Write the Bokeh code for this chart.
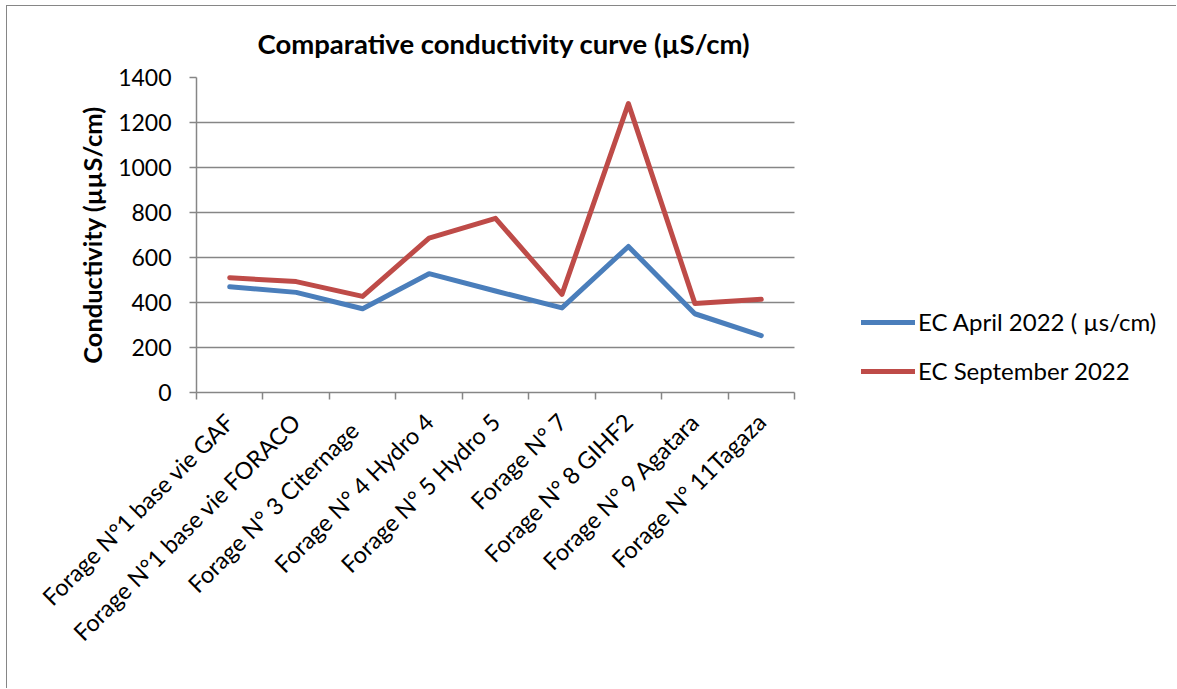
import math

from bokeh.embed import file_html
from bokeh.models import (ColumnDataSource, FixedTicker, Legend, LegendItem, Range1d)
from bokeh.plotting import figure
from bokeh.resources import INLINE

# Boreholes sampled in both campaigns
wells = [
    "Forage N°1 base vie GAF",
    "Forage N°1 base vie FORACO",
    "Forage  N° 3  Citernage",
    "Forage N° 4 Hydro 4",
    "Forage N° 5 Hydro 5",
    "Forage N° 7",
    "Forage N° 8 GIHF2",
    "Forage N° 9 Agatara",
    "Forage N° 11Tagaza",
]

# Electrical conductivity (µS/cm)
ec_april = [470, 445, 372, 528, 451, 376, 649, 350, 253]
ec_september = [510, 493, 427, 686, 774, 436, 1284, 396, 414]

y_ticks = [0, 200, 400, 600, 800, 1000, 1200, 1400]

FONT = "Lato"
GREY = "#868686"
BLUE = "#4A7EBB"
RED = "#BE4B48"

# Canvas layout (px): the frame runs to the right edge so the legend can sit beside the
# plotted area; gridlines and the x axis are bounded to the wells' slots.
CANVAS_W, CANVAS_H = 1170, 683
FRAME_LEFT, FRAME_TOP, FRAME_BOTTOM = 189, 71, 297
PLOT_W = 598
frame_w = CANVAS_W - FRAME_LEFT
n = len(wells)

# One unit-wide slot per well: the point sits in the middle, tick marks on the slot edges
centres = [i + 0.5 for i in range(n)]
edges = list(range(n + 1))

source = ColumnDataSource(dict(pos=centres, well=wells, april=ec_april, september=ec_september))

p = figure(
    width=CANVAS_W, height=CANVAS_H,
    x_range=Range1d(0, n * frame_w / PLOT_W),
    y_range=Range1d(0, y_ticks[-1]),
    output_backend="svg", toolbar_location=None,
    min_border_left=FRAME_LEFT, min_border_right=0,
    min_border_top=FRAME_TOP, min_border_bottom=FRAME_BOTTOM,
)
# Chart area edge along the top and left of the canvas
p.margin = (5, 0, 0, 6)
p.styles = {"border-left": f"1px solid {GREY}", "border-top": f"1px solid {GREY}"}
p.outline_line_color = None
p.background_fill_color = "white"
p.border_fill_color = "white"

# Title
p.title.text = "Comparative conductivity curve (µS/cm)"
p.title.align = "left"
p.title.offset = 61
p.title.text_font = FONT
p.title.text_font_style = "bold"
p.title.text_font_size = "27.5px"
p.title.text_color = "black"
p.title.standoff = 35

# Y axis and horizontal gridlines
yax = p.yaxis[0]
yax.ticker = FixedTicker(ticks=y_ticks)
yax.axis_line_color = GREY
yax.axis_line_width = 1.5
yax.major_tick_line_color = GREY
yax.major_tick_line_width = 1.5
yax.major_tick_in = 0
yax.major_tick_out = 7
yax.minor_tick_line_color = None
yax.major_label_standoff = 18
yax.major_label_text_font = FONT
yax.major_label_text_font_size = "23px"
yax.major_label_text_color = "black"
yax.axis_label = "Conductivity (µµS/cm)"
yax.axis_label_text_font = FONT
yax.axis_label_text_font_style = "bold"
yax.axis_label_text_font_size = "25.5px"
yax.axis_label_text_color = "black"
yax.axis_label_standoff = 8

p.ygrid.ticker = FixedTicker(ticks=y_ticks)
p.ygrid.cross_bounds = (0, n)
p.ygrid.grid_line_color = GREY
p.ygrid.grid_line_width = 1.5
p.xgrid.visible = False

# X axis: names on the slot centres, tick marks on the slot edges
xax = p.xaxis[0]
xax.bounds = (0, n)
xax.ticker = FixedTicker(ticks=centres, minor_ticks=edges)
xax.major_label_overrides = {c: name for c, name in zip(centres, wells)}
xax.axis_line_color = GREY
xax.axis_line_width = 1.5
xax.major_tick_line_color = None
xax.major_tick_in = 0
xax.major_tick_out = 7
xax.minor_tick_line_color = GREY
xax.minor_tick_line_width = 1.5
xax.minor_tick_in = 0
xax.minor_tick_out = 7
xax.major_label_orientation = math.pi / 4
xax.major_label_standoff = 18
xax.major_label_text_font = FONT
xax.major_label_text_font_size = "23.5px"
xax.major_label_text_color = "black"

# Series
r_apr = p.line("pos", "april", source=source, line_color=BLUE, line_width=5,
               line_join="round", line_cap="round")
r_sep = p.line("pos", "september", source=source, line_color=RED, line_width=5,
               line_join="round", line_cap="round")

legend = Legend(
    items=[LegendItem(label="EC April 2022 ( µs/cm)", renderers=[r_apr]),
           LegendItem(label="EC September 2022", renderers=[r_sep])],
    location=(665, 7),
    glyph_width=54, glyph_height=24, label_height=24, spacing=20,
    padding=0, margin=0, label_standoff=3,
    border_line_color=None, background_fill_alpha=0,
    label_text_font=FONT, label_text_font_size="24px", label_text_color="black",
)
p.add_layout(legend)

open("out.html", "w").write(file_html(p, INLINE))
